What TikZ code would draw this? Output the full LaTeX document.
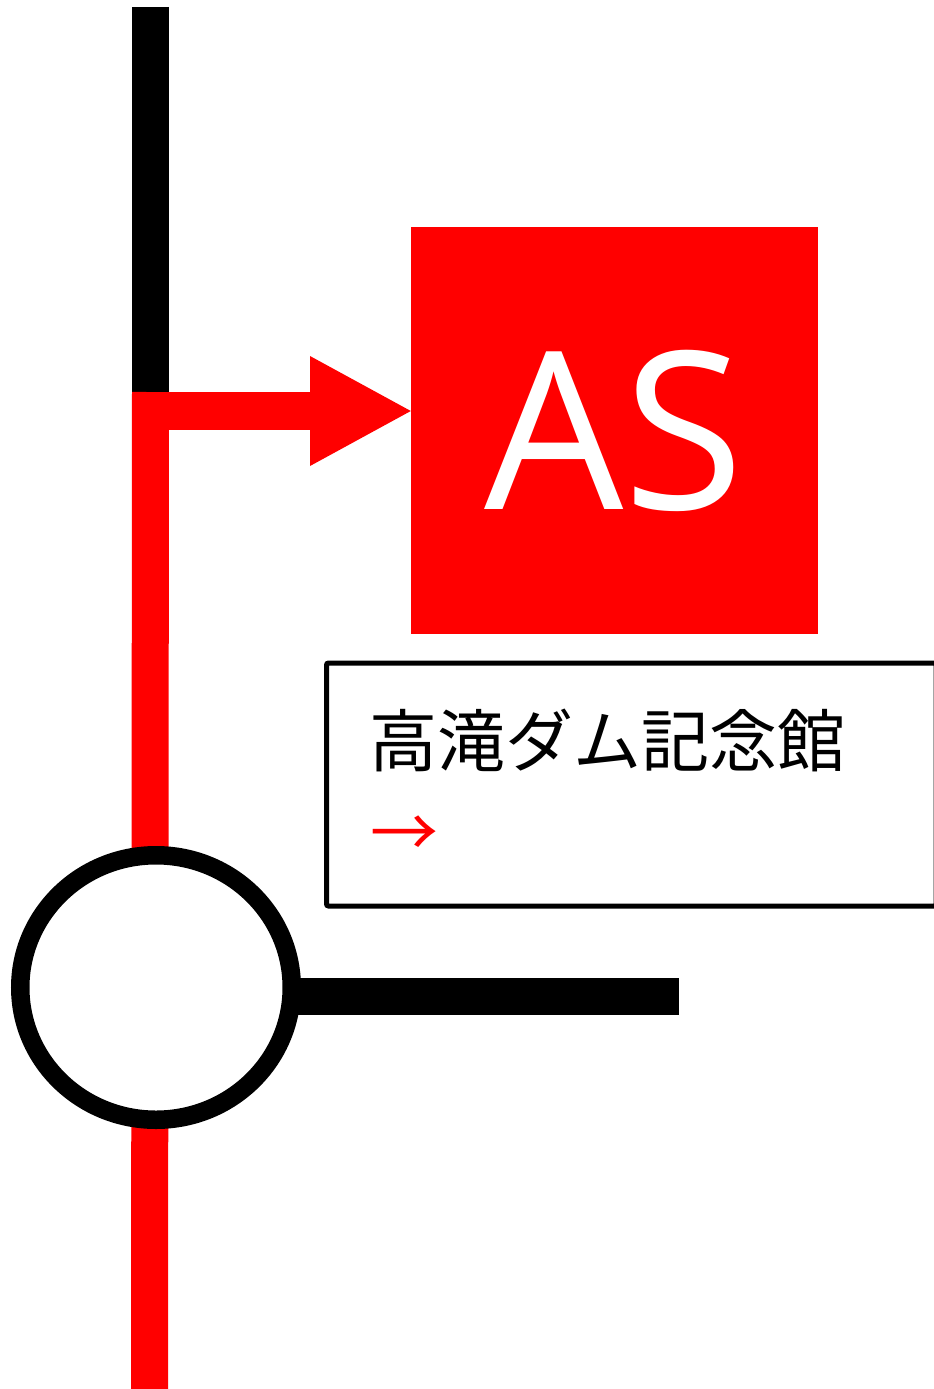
\documentclass[tikz,border=0pt]{standalone}
\usepackage{fontspec}
\usetikzlibrary{shapes.geometric,calc}
\newfontfamily\jpfont{Noto Sans CJK JP}
\newfontfamily\asfont{Open Sans}
\pgfdeclarelayer{bg}
\pgfsetlayers{bg,main}
\tikzset{
  blackline/.style={draw=black, line width=37pt},
  redline/.style={draw=red, line width=37pt},
  stationring/.style={ellipse, draw=black, line width=18.5pt, fill=white, inner sep=0pt},
  stopbox/.style={fill=red, inner sep=0pt, text=white, font=\asfont\fontsize{220}{220}\selectfont},
  labelbox/.style={draw=black, line width=5pt, rounded corners=2pt, inner sep=0pt},
  labeltext/.style={anchor=base west, inner sep=0pt, font=\jpfont\fontsize{68}{68}\selectfont}
}
\begin{document}
\begin{tikzpicture}[x=1pt,y=-1pt]
\useasboundingbox (0,0) rectangle (934,1389);
% nodes
\node[stopbox, minimum size=407pt] (as) at (614.5,430.5) {AS};
\node[labelbox, minimum width=609.5pt, minimum height=243pt] (box) at (631.25,784.5) {};
\node[labeltext] (name) at (369,766) {高滝ダム記念館};
\node[labeltext, text=red] (arrowsym) at (370,857) {→};
\node[stationring, minimum width=271.5pt, minimum height=264.5pt] (station) at (156,987.5) {};
% coordinates
\coordinate (top) at (150.5,7);
\coordinate (jtop) at (150.5,392);
\coordinate (bot) at (149.5,1389);
\coordinate (junc) at (132,411);
\coordinate (headbase) at (310,411);
\coordinate (hend) at (679,996.5);
% lines behind the station ring
\begin{pgfonlayer}{bg}
\draw[blackline] (top) -- (jtop);
\draw[redline] (jtop) -- (bot);
\draw[blackline] (station.center |- hend) -- (hend);
\end{pgfonlayer}
% arrow to AS
\draw[red, line width=38pt] (junc) -- (headbase);
\fill[red] ($(headbase)+(0,-55)$) -- (as.west |- junc) -- ($(headbase)+(0,55)$) -- cycle;
\end{tikzpicture}
\end{document}
